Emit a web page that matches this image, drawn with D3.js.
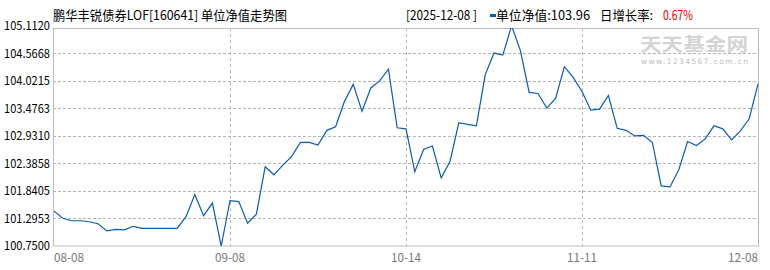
<!DOCTYPE html>
<html>
<head>
<meta charset="utf-8">
<script src="https://cdn.jsdelivr.net/npm/d3@7"></script>
<style>
  body { margin: 0; background: #fff; }
  svg text { font-family: SimSun, "Noto Sans CJK SC", sans-serif; }
</style>
</head>
<body>
<svg id="chart" width="770" height="270"></svg>
<script>
// unit NAV, one value per trading day (08-08 .. 12-08)
const navValues = [
  101.44, 101.30, 101.25, 101.25, 101.23, 101.19, 101.05, 101.08, 101.07, 101.14,
  101.10, 101.10, 101.10, 101.10, 101.10, 101.33, 101.77, 101.35, 101.60, 100.75,
  101.65, 101.63, 101.20, 101.38, 102.32, 102.16, 102.35, 102.52, 102.80, 102.80,
  102.75, 103.04, 103.11, 103.61, 103.95, 103.42, 103.88, 104.02, 104.25, 103.09,
  103.07, 102.22, 102.66, 102.73, 102.10, 102.42, 103.19, 103.16, 103.13, 104.14,
  104.57, 104.53, 105.112, 104.62, 103.79, 103.77, 103.48, 103.67, 104.30, 104.09,
  103.81, 103.44, 103.46, 103.73, 103.08, 103.04, 102.93, 102.94, 102.80, 101.94,
  101.92, 102.26, 102.82, 102.74, 102.87, 103.13, 103.07, 102.85, 103.03, 103.27,
  103.96
];
const xTickIndex = [0, 20, 40, 60, 80];
const xTickLabels = ["08-08", "09-08", "10-14", "11-11", "12-08"];
const yTicks = [100.75, 101.2953, 101.8405, 102.3858, 102.931, 103.4763, 104.0215, 104.5668, 105.112];

const titleText = "鹏华丰锐债券LOF[160641] 单位净值走势图";
const legendDate = "[2025-12-08 ]";
const legendNav = "单位净值:103.96";
const legendRateLabel = "日增长率:";
const legendRate = "0.67%";

const svg = d3.select("#chart");
const plotLeft = 53, plotRight = 758, plotTop = 28, plotBottom = 246;

const x = d3.scaleLinear().domain([0, navValues.length - 1]).range([plotLeft + 1, plotRight]);
const y = d3.scaleLinear().domain([yTicks[0], yTicks[yTicks.length - 1]]).range([plotBottom, 25.7]);

// watermark
svg.append("text")
  .attr("x", 640).attr("y", 51)
  .attr("font-size", 18).attr("font-weight", "bold")
  .attr("fill", "#d4d4d4")
  .attr("textLength", 108).attr("lengthAdjust", "spacingAndGlyphs")
  .text("天天基金网");
svg.append("text")
  .attr("x", 641).attr("y", 64)
  .attr("font-size", 7.5)
  .attr("fill", "#bdbdbd")
  .style("font-family", "'DejaVu Sans', sans-serif")
  .attr("textLength", 107).attr("lengthAdjust", "spacing")
  .text("www.1234567.com.cn");

// horizontal grid (dashed), skipping the frame lines
svg.append("g")
  .selectAll("line")
  .data(yTicks.slice(1, -1))
  .enter().append("line")
  .attr("x1", plotLeft).attr("x2", plotRight)
  .attr("y1", d => Math.round(y(d)) + 0.5)
  .attr("y2", d => Math.round(y(d)) + 0.5)
  .attr("stroke", "#b4b4b4")
  .attr("stroke-dasharray", "3,2");

// vertical grid (dashed)
svg.append("g")
  .selectAll("line")
  .data(xTickIndex.slice(1, -1))
  .enter().append("line")
  .attr("x1", d => Math.round(x(d)) + 0.5)
  .attr("x2", d => Math.round(x(d)) + 0.5)
  .attr("y1", plotTop).attr("y2", plotBottom)
  .attr("stroke", "#b4b4b4")
  .attr("stroke-dasharray", "3,3");

// frame
svg.append("rect")
  .attr("x", plotLeft + 0.5).attr("y", plotTop + 0.5)
  .attr("width", plotRight - plotLeft).attr("height", plotBottom - plotTop - 0.5)
  .attr("fill", "none")
  .attr("stroke", "#bcbcbc");

// y axis labels
const yAxis = d3.axisLeft(y)
  .tickValues(yTicks)
  .tickSize(0)
  .tickPadding(3)
  .tickFormat(d3.format(".4f"));
const yg = svg.append("g")
  .attr("transform", `translate(${plotLeft},0)`)
  .call(yAxis);
yg.select(".domain").remove();
yg.selectAll("text")
  .attr("font-size", 12)
  .attr("fill", "#000")
  .style("font-family", "SimSun, 'Noto Sans CJK SC', sans-serif")
  .attr("textLength", 46).attr("lengthAdjust", "spacingAndGlyphs");

// x axis labels
svg.append("g")
  .selectAll("text")
  .data(xTickIndex)
  .enter().append("text")
  .attr("x", (d, i) => i === 0 ? plotLeft + 1 : x(d))
  .attr("y", 262)
  .attr("font-size", 12)
  .attr("fill", "#777")
  .attr("text-anchor", (d, i) => i === 0 ? "start" : (i === xTickIndex.length - 1 ? "end" : "middle"))
  .attr("textLength", 30).attr("lengthAdjust", "spacingAndGlyphs")
  .text((d, i) => xTickLabels[i]);

// clip the line to the frame
svg.append("clipPath").attr("id", "plotclip")
  .append("rect")
  .attr("x", plotLeft).attr("y", plotTop).attr("width", plotRight - plotLeft + 1).attr("height", plotBottom - plotTop);

const line = d3.line()
  .x((d, i) => x(i))
  .y(d => y(d));

svg.append("path")
  .datum(navValues)
  .attr("clip-path", "url(#plotclip)")
  .attr("fill", "none")
  .attr("stroke", "#0a5cb0")
  .attr("stroke-width", 1.2)
  .attr("d", line);

// title
svg.append("text")
  .attr("x", 53).attr("y", 20)
  .attr("font-size", 13)
  .attr("fill", "#000")
  .attr("textLength", 234).attr("lengthAdjust", "spacingAndGlyphs")
  .text(titleText);

// legend
const lg = svg.append("g").attr("font-size", 13).attr("fill", "#000");
lg.append("text")
  .attr("x", 406).attr("y", 20)
  .attr("textLength", 71).attr("lengthAdjust", "spacingAndGlyphs")
  .text(legendDate);
lg.append("rect")
  .attr("x", 490).attr("y", 14).attr("width", 6).attr("height", 3)
  .attr("fill", "#0a5cb0");
lg.append("text")
  .attr("x", 496).attr("y", 20)
  .attr("textLength", 94).attr("lengthAdjust", "spacingAndGlyphs")
  .text(legendNav);
lg.append("text")
  .attr("x", 600).attr("y", 20)
  .attr("textLength", 53).attr("lengthAdjust", "spacingAndGlyphs")
  .text(legendRateLabel);
lg.append("text")
  .attr("x", 663).attr("y", 20)
  .attr("fill", "#e00000")
  .attr("textLength", 30).attr("lengthAdjust", "spacingAndGlyphs")
  .text(legendRate);
</script>
</body>
</html>
